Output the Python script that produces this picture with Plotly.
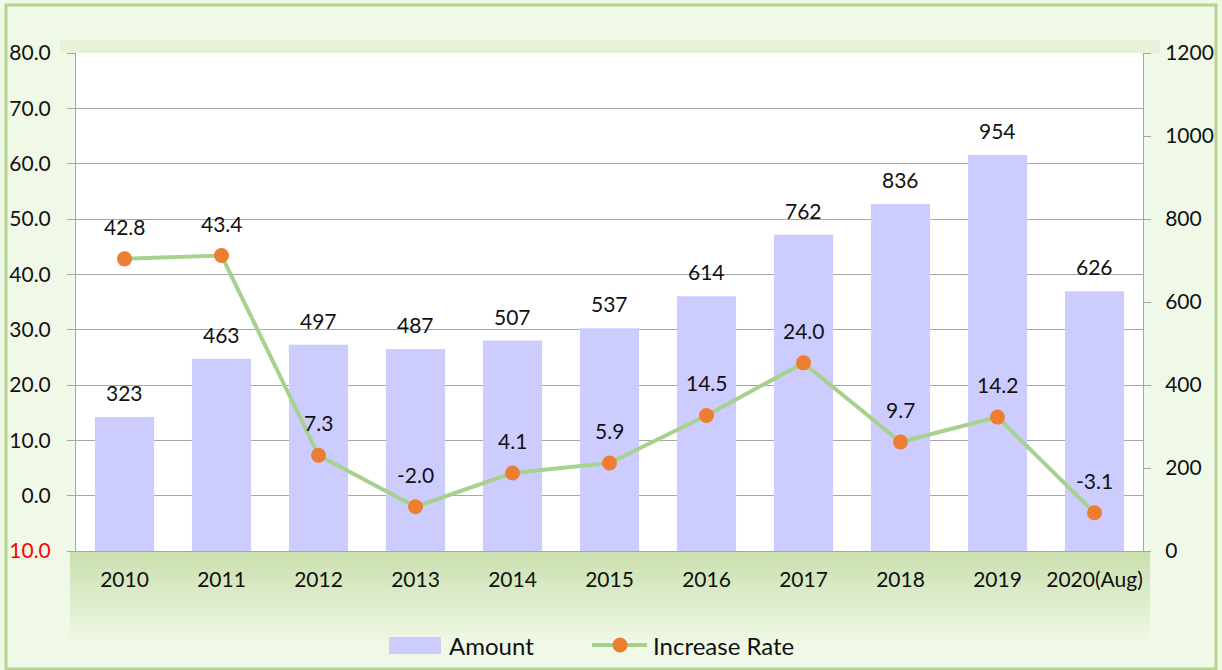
import plotly.graph_objects as go

years = ["2010", "2011", "2012", "2013", "2014", "2015", "2016", "2017", "2018", "2019", "2020(Aug)"]
amount = [323, 463, 497, 487, 507, 537, 614, 762, 836, 954, 626]
increase_rate = [42.8, 43.4, 7.3, -2.0, 4.1, 5.9, 14.5, 24.0, 9.7, 14.2, -3.1]
series_names = ["Amount", "Increase Rate"]

left_ticks = [-10, 0, 10, 20, 30, 40, 50, 60, 70, 80]
left_ticktext = ["<span style='color:#ff0000'>10.0</span>"] + [f"{v:.1f}" for v in left_ticks[1:]]
right_ticks = [0, 200, 400, 600, 800, 1000, 1200]

FONT = "Lato, 'Open Sans', sans-serif"
GRID = "#a6a6a6"
BAR_C = "#ccccff"
LINE_C = "#a9d18e"
MARK_C = "#ed7d31"

xpos = list(range(len(years)))

fig = go.Figure()
fig.add_trace(go.Bar(
    x=xpos, y=amount, name=series_names[0], marker=dict(color=BAR_C, line=dict(width=0)),
    yaxis="y", cliponaxis=False, showlegend=False,
))
fig.add_trace(go.Scatter(
    x=xpos, y=increase_rate, name=series_names[1], mode="lines+markers",
    line=dict(color=LINE_C, width=4), marker=dict(color=MARK_C, size=15),
    yaxis="y2", cliponaxis=False, showlegend=False,
))

annotations = []
for xv, yv in zip(xpos, amount):
    annotations.append(dict(x=xv, y=yv, xref="x", yref="y", text=str(yv), showarrow=False,
                            yanchor="bottom", yshift=10, font=dict(size=21, color="#111111", family=FONT)))
for xv, yv in zip(xpos, increase_rate):
    annotations.append(dict(x=xv, y=yv, xref="x", yref="y2", text=f"{yv:.1f}", showarrow=False,
                            yanchor="bottom", yshift=18, font=dict(size=21, color="#111111", family=FONT)))

# layout geometry in pixels
L, R, T, B = 76, 1143, 53, 551
W = R - L
H = B - T
def px(xp):
    return (xp - L) / W
def py(yp):
    return (B - yp) / H

shapes = []
# gradient band under the plot area
c0 = (204, 224, 176)
c1 = (240, 249, 231)
n = 16
for i in range(n):
    t = i / (n - 1)
    col = tuple(int(c0[k] + (c1[k] - c0[k]) * t) for k in range(3))
    y_top = B + i * 6
    shapes.append(dict(type="rect", xref="paper", yref="paper", x0=px(70), x1=px(1150),
                       y0=py(y_top + 6), y1=py(y_top), fillcolor=f"rgb{col}", line=dict(width=0), layer="below"))
# soft band above the plot area
shapes.append(dict(type="rect", xref="paper", yref="paper", x0=px(60), x1=px(1160),
                   y0=py(53), y1=py(40), fillcolor="#e7f2da", line=dict(width=0), layer="below"))
# outer border
shapes.append(dict(type="rect", xref="paper", yref="paper", x0=px(6), x1=px(1216),
                   y0=py(669), y1=py(5), fillcolor="rgba(0,0,0,0)", line=dict(color="#b5d48f", width=3), layer="above"))

# custom legend
LEG_Y = 645
shapes.append(dict(type="rect", xref="paper", yref="paper", x0=px(389), x1=px(441),
                   y0=py(654), y1=py(637), fillcolor=BAR_C, line=dict(width=0)))
shapes.append(dict(type="line", xref="paper", yref="paper", x0=px(592), x1=px(647),
                   y0=py(LEG_Y), y1=py(LEG_Y), line=dict(color=LINE_C, width=4)))
shapes.append(dict(type="circle", xref="paper", yref="paper", x0=px(612.5), x1=px(627.5),
                   y0=py(LEG_Y + 7.5), y1=py(LEG_Y - 7.5), fillcolor=MARK_C, line=dict(width=0)))
annotations.append(dict(x=px(447), y=py(LEG_Y), xref="paper", yref="paper", text=series_names[0],
                        showarrow=False, xanchor="left", yanchor="middle",
                        font=dict(size=24, color="#111111", family=FONT)))
annotations.append(dict(x=px(651), y=py(LEG_Y), xref="paper", yref="paper", text=series_names[1],
                        showarrow=False, xanchor="left", yanchor="middle",
                        font=dict(size=24, color="#111111", family=FONT)))

fig.update_layout(
    width=1222, height=670,
    margin=dict(l=L, r=1222 - R, t=T, b=670 - B, autoexpand=False),
    paper_bgcolor="#f0f9e7",
    plot_bgcolor="#ffffff",
    font=dict(family=FONT, size=21, color="#111111"),
    bargap=0.39,
    showlegend=False,
    xaxis=dict(range=[-0.5, len(years) - 0.5], tickvals=xpos, ticktext=years,
               showline=True, linecolor=GRID, linewidth=1, ticks="", showgrid=False, zeroline=False,
               ticklabelstandoff=10, tickfont=dict(size=21, family=FONT), automargin=False),
    yaxis=dict(side="right", range=[0, 1200], tickvals=right_ticks, showgrid=False,
               showline=True, linecolor=GRID, linewidth=1, ticks="outside", ticklen=7,
               tickcolor=GRID, zeroline=False, ticklabelstandoff=10, automargin=False,
               tickfont=dict(size=21, family=FONT)),
    yaxis2=dict(side="left", overlaying="y", range=[-10, 80], tickvals=left_ticks, ticktext=left_ticktext,
                showgrid=True, gridcolor=GRID, gridwidth=1, showline=True, linecolor=GRID, linewidth=1,
                ticks="outside", ticklen=8, tickcolor=GRID, zeroline=False, ticklabelstandoff=12,
                automargin=False, tickfont=dict(size=21, family=FONT)),
    annotations=annotations,
    shapes=shapes,
)

fig.write_html("out.html", config={"displayModeBar": False},
               post_script="document.body.style.margin='0';document.body.style.overflow='hidden';")
